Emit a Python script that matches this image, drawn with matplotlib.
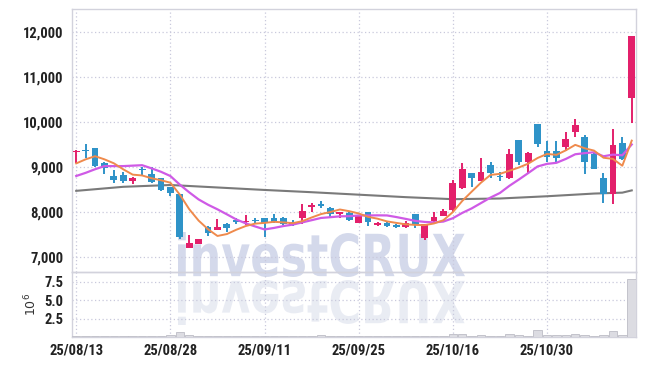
import matplotlib
matplotlib.use("Agg")
import matplotlib.pyplot as plt
import numpy as np
import pandas as pd
from matplotlib.textpath import TextPath
from matplotlib.patches import PathPatch
from matplotlib.font_manager import FontProperties, fontManager
from matplotlib.transforms import Affine2D
from matplotlib.ticker import FuncFormatter

# daily OHLC, 60 trading days 2025-08-13 .. 2025-11-12
opens = [9340, 9370, 9420, 9090, 8800, 8830, 8690, 8950, 8850, 8750,
         8550, 8390, 7200, 7300, 7670, 7610, 7740, 7810, 7780, 7820,
         7860, 7860, 7870, 7770, 7860, 8110, 8160, 8100, 7950, 7980,
         7760, 7990, 7710, 7760, 7710, 7660, 7950, 7420, 7800, 7920,
         8040, 8530, 8860, 8700, 9040, 8800, 8750, 9600, 9120, 9960,
         9350, 9350, 9450, 9770, 9670, 9290, 8760, 8410, 9530, 10540]
highs = [9370, 9500, 9420, 9110, 8930, 8880, 8780, 9010, 9000, 8750,
         8560, 8400, 7490, 7400, 7680, 7840, 7760, 7860, 7940, 7860,
         7870, 7950, 7880, 7830, 8170, 8210, 8240, 8110, 8010, 7990,
         7920, 8000, 7780, 7770, 7740, 7790, 7960, 7740, 7990, 8070,
         8710, 9080, 8870, 9210, 9100, 8890, 9400, 9600, 9330, 9960,
         9580, 9580, 9770, 10060, 9710, 9340, 8860, 9840, 9660, 11920]
lows = [9090, 9190, 9010, 8840, 8640, 8650, 8620, 8790, 8650, 8470,
        8360, 7410, 7190, 7290, 7470, 7600, 7560, 7730, 7710, 7730,
        7450, 7760, 7720, 7700, 7730, 8010, 8080, 7870, 7860, 7800,
        7750, 7700, 7700, 7660, 7650, 7650, 7650, 7380, 7730, 7910,
        8000, 8510, 8560, 8690, 8750, 8680, 8740, 9040, 8840, 9440,
        9120, 9120, 9360, 9660, 8840, 8950, 8190, 8180, 9160, 9970]
closes = [9360, 9350, 9020, 8970, 8710, 8690, 8760, 8930, 8660, 8490,
          8415, 7440, 7310, 7390, 7530, 7670, 7650, 7790, 7800, 7800,
          7750, 7770, 7730, 7710, 8020, 8160, 8150, 7960, 7990, 7830,
          7910, 7770, 7760, 7690, 7660, 7750, 7710, 7730, 7880, 8020,
          8650, 8950, 8760, 8890, 8870, 8770, 9290, 9120, 9320, 9500,
          9220, 9190, 9620, 9930, 9120, 8960, 8400, 9490, 9170, 11910]
# volume in millions of shares
volumes = [0.15, 0.12, 0.2, 0.15, 0.12, 0.1, 0.08, 0.15, 0.18, 0.2,
           0.25, 0.65, 0.25, 0.12, 0.1, 0.15, 0.12, 0.08, 0.1, 0.1,
           0.12, 0.15, 0.15, 0.1, 0.2, 0.18, 0.25, 0.15, 0.12, 0.1,
           0.08, 0.15, 0.1, 0.08, 0.1, 0.1, 0.15, 0.2, 0.15, 0.2,
           0.45, 0.45, 0.2, 0.25, 0.15, 0.1, 0.35, 0.3, 0.2, 0.95,
           0.3, 0.3, 0.3, 0.4, 0.3, 0.15, 0.25, 0.8, 0.3, 7.9]

# moving-average values before the window is full
ma5_head = [9080, 9170, 9240, 9170]
ma10_head = [8800, 8870, 8950, 9020, 9020, 9020, 9030, 9040, 8970]
# long moving average, read at a few points
ma_long_idx = [0, 5, 10, 15, 20, 25, 30, 35, 40, 45, 50, 55, 58, 59]
ma_long = [8470, 8560, 8600, 8545, 8490, 8440, 8385, 8330, 8285, 8300, 8350, 8410, 8430, 8480]

tick_idx = [0, 10, 20, 30, 40, 50]
tick_labels = ["25/08/13", "25/08/28", "25/09/11", "25/09/25", "25/10/16", "25/10/30"]

UP = "#e3206b"
DOWN = "#2f93c8"
GRID = "#c9c9dc"
SPINE = "#d2d2dc"

# pick a narrow font for the tick labels if one is installed
names = {f.name for f in fontManager.ttflist}
narrow = [n for n in ["Liberation Sans Narrow", "Roboto Condensed", "Open Sans Condensed"] if n in names]
tick_fp = FontProperties(family=(narrow[:1] or ["DejaVu Sans"]), weight="bold",
                         stretch="condensed", size=10.5)

x = np.arange(len(closes))
s = pd.Series(closes, dtype=float)
ma5 = s.rolling(5).mean().values
ma5[:len(ma5_head)] = ma5_head
ma10 = s.rolling(10).mean().values
ma10[:len(ma10_head)] = ma10_head

fig = plt.figure(figsize=(6.45, 3.66), dpi=100)
fig.patch.set_facecolor("white")
ax = fig.add_axes([0.1116, 0.2568, 0.8744, 0.7186])
axv = fig.add_axes([0.1116, 0.0792, 0.8744, 0.1776], sharex=ax)

for a in (ax, axv):
    a.set_facecolor("none")
    for sp in a.spines.values():
        sp.set_color(SPINE)
        sp.set_linewidth(1.0)
    a.grid(True, linestyle=(0, (1, 2)), color=GRID, linewidth=0.9)
    a.set_axisbelow(True)
    a.tick_params(length=0, colors="#222222")

# candles
for i in x:
    o, h, l, c = opens[i], highs[i], lows[i], closes[i]
    col = UP if c >= o else DOWN
    ax.vlines(i, l, h, color=col, linewidth=1.4, zorder=3)
    lo, hi = min(o, c), max(o, c)
    if hi - lo < 25:
        lo, hi = (lo + hi) / 2 - 12, (lo + hi) / 2 + 12
    ax.bar(i, hi - lo, bottom=lo, width=0.72, color=col, zorder=4, linewidth=0)

ax.plot(ma_long_idx, ma_long, color="#7a7a7a", linewidth=1.5, zorder=2)
ax.plot(x, ma10, color="#cf5ae6", linewidth=1.6, zorder=5)
ax.plot(x, ma5, color="#ef8a4c", linewidth=1.4, zorder=5)

ax.set_xlim(-0.45, 59.45)
ax.set_ylim(6667, 12510)
ax.set_yticks([7000, 8000, 9000, 10000, 11000, 12000])
ax.yaxis.set_major_formatter(FuncFormatter(lambda v, p: f"{int(v):,}"))
ax.set_xticks(tick_idx)
ax.tick_params(axis="x", labelbottom=False)
ax.tick_params(axis="y", pad=6)
for t in ax.get_yticklabels():
    t.set_fontproperties(tick_fp)

axv.bar(x, volumes, width=0.9, color="#dcdce2", edgecolor="#bdbdc6", linewidth=0.6, zorder=3)
axv.set_ylim(0, 8.85)
axv.set_yticks([2.5, 5.0, 7.5])
axv.set_xticks(tick_idx)
axv.set_xticklabels(tick_labels)
axv.set_ylabel(r"$10^{6}$", fontsize=9, color="#333333", labelpad=4)
axv.tick_params(axis="y", pad=6)
for t in axv.get_xticklabels() + axv.get_yticklabels():
    t.set_fontproperties(tick_fp)
axv.tick_params(axis="x", pad=5)

# watermark with its reflection
W, H = 645.0, 366.0
tp = TextPath((0, 0), "investCRUX", size=50,
              prop=FontProperties(family="DejaVu Sans", weight="bold"))
ext = tp.get_extents()
x0, x1, top, base = 178, 465, 232, 277
sx = (x1 - x0) / ext.width / W
sy = (base - top) / ext.height / H
tr = Affine2D().translate(-ext.x0, -ext.y0).scale(sx, sy).translate(x0 / W, 1 - base / H)
fig.add_artist(PathPatch(tp, transform=tr + fig.transFigure, facecolor="#cdd3e8",
                         edgecolor="none", alpha=0.85, zorder=-1))
tr2 = Affine2D().translate(-ext.x0, -ext.y0).scale(sx, -sy).translate(x0 / W, 1 - 280 / H)
fig.add_artist(PathPatch(tp, transform=tr2 + fig.transFigure, facecolor="#e6e9f2",
                         edgecolor="none", alpha=0.85, zorder=-1))

fig.savefig("out.png", dpi=100)
